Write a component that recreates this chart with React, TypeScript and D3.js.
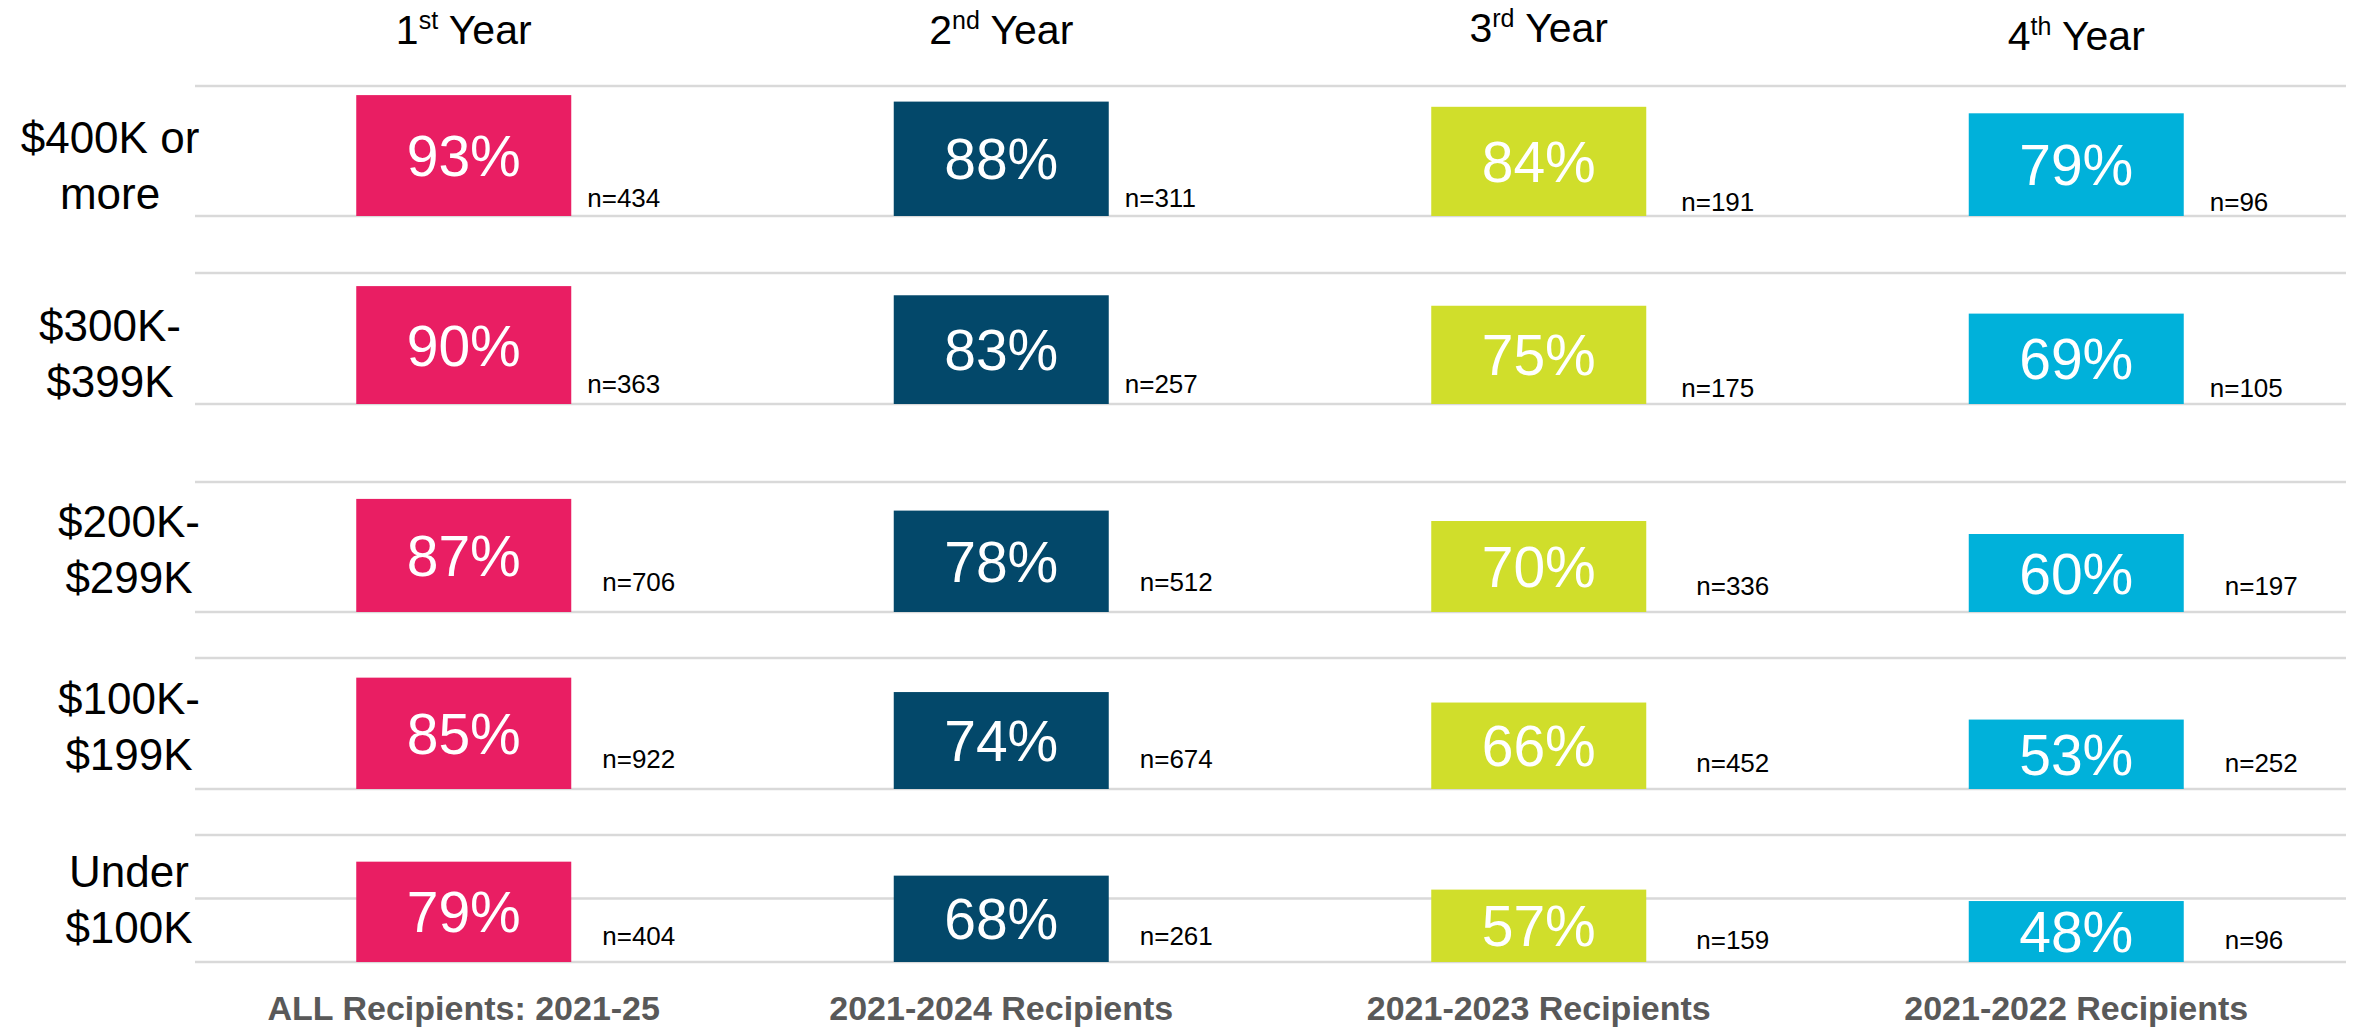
import React, { useEffect, useRef } from "react";
import * as d3 from "d3";

// data
const yearNums = ["1", "2", "3", "4"];
const yearSups = ["st", "nd", "rd", "th"];
const cohorts = [
  "ALL Recipients: 2021-25",
  "2021-2024 Recipients",
  "2021-2023 Recipients",
  "2021-2022 Recipients",
];
const incomeBands = [
  ["$400K or", "more"],
  ["$300K-", "$399K"],
  ["$200K-", "$299K"],
  ["$100K-", "$199K"],
  ["Under", "$100K"],
];
const year1 = [93, 90, 87, 85, 79];
const year2 = [88, 83, 78, 74, 68];
const year3 = [84, 75, 70, 66, 57];
const year4 = [79, 69, 60, 53, 48];
const n1 = [434, 363, 706, 922, 404];
const n2 = [311, 257, 512, 674, 261];
const n3 = [191, 175, 336, 452, 159];
const n4 = [96, 105, 197, 252, 96];
const rowTicks = [[0, 100], [0, 100], [0, 100], [0, 100], [0, 50, 100]];

const colors = ["#E91E63", "#03486A", "#D0DE2B", "#00B1DA"];

// layout
const W = 2354;
const H = 1027;
const rowTop = [86, 273, 482, 658, 835];
const rowBottom = [216, 404, 612, 789, 962];
const nGap = [16, 16, 35, 26];
const nDy = [-9, -11, -21, -21, -17];
const nColDy = [0, 0, 4, 4];
const titleY = [44, 44, 42, 50];
const font = "'Liberation Sans', Arial, sans-serif";

const App = () => {
  const ref = useRef<SVGSVGElement>(null);

  useEffect(() => {
    document.body.style.margin = "0";
    const svg = d3.select(ref.current);
    svg.selectAll("*").remove();

    const values = [year1, year2, year3, year4];
    const counts = [n1, n2, n3, n4];

    const x = d3.scaleBand<number>()
      .domain(d3.range(4))
      .range([195, 2345])
      .paddingInner(0.6)
      .paddingOuter(0.3);
    const cx = (i: number) => (x(i) as number) + x.bandwidth() / 2;

    // column titles
    yearNums.forEach((num, i) => {
      const t = svg.append("text")
        .attr("x", cx(i))
        .attr("y", titleY[i])
        .attr("text-anchor", "middle")
        .attr("font-family", font)
        .attr("font-size", 41)
        .attr("fill", "#000");
      t.append("tspan").text(num);
      t.append("tspan").attr("font-size", 25).attr("dy", -15).text(yearSups[i]);
      t.append("tspan").attr("dy", 15).text(" Year");
    });

    incomeBands.forEach((label, r) => {
      const y = d3.scaleLinear().domain([0, 100]).range([rowBottom[r], rowTop[r]]);
      const g = svg.append("g");
      const shifted = r >= 2;

      g.selectAll("line.grid")
        .data(rowTicks[r])
        .enter().append("line")
        .attr("class", "grid")
        .attr("x1", 195)
        .attr("x2", 2346)
        .attr("y1", (d) => y(d))
        .attr("y2", (d) => y(d))
        .attr("stroke", "#D9D9D9")
        .attr("stroke-width", 2.5);

      // row label
      const lx = shifted ? 129 : 110;
      const ly = rowBottom[r] - (shifted ? 19 : 7);
      g.selectAll("text.row")
        .data(label)
        .enter().append("text")
        .attr("class", "row")
        .attr("x", lx)
        .attr("y", (_d, k) => ly - (label.length - 1 - k) * 56)
        .attr("text-anchor", "middle")
        .attr("font-family", font)
        .attr("font-size", 44)
        .attr("fill", "#000")
        .text((d) => d);

      const cols = d3.range(4);
      g.selectAll("rect.bar")
        .data(cols)
        .enter().append("rect")
        .attr("class", "bar")
        .attr("x", (c) => x(c) as number)
        .attr("width", x.bandwidth())
        .attr("y", (c) => y(values[c][r]))
        .attr("height", (c) => y(0) - y(values[c][r]))
        .attr("fill", (c) => colors[c]);

      g.selectAll("text.pct")
        .data(cols)
        .enter().append("text")
        .attr("class", "pct")
        .attr("x", (c) => cx(c))
        .attr("y", (c) => (y(values[c][r]) + y(0)) / 2)
        .attr("dy", "0.36em")
        .attr("text-anchor", "middle")
        .attr("font-family", font)
        .attr("font-size", 57)
        .attr("fill", "#fff")
        .text((c) => `${values[c][r]}%`);

      g.selectAll("text.n")
        .data(cols)
        .enter().append("text")
        .attr("class", "n")
        .attr("x", (c) => (x(c) as number) + x.bandwidth() + nGap[c] + (shifted ? 15 : 0))
        .attr("y", (c) => y(0) + nDy[r] + nColDy[c])
        .attr("font-family", font)
        .attr("font-size", 26)
        .attr("fill", "#000")
        .text((c) => `n=${counts[c][r]}`);
    });

    // cohort labels
    svg.selectAll("text.cohort")
      .data(cohorts)
      .enter().append("text")
      .attr("class", "cohort")
      .attr("x", (_d, i) => cx(i))
      .attr("y", 1020)
      .attr("text-anchor", "middle")
      .attr("font-family", font)
      .attr("font-size", 34)
      .attr("font-weight", "bold")
      .attr("fill", "#595959")
      .text((d) => d);
  }, []);

  return <svg ref={ref} width={W} height={H} style={{ display: "block", background: "#fff" }} />;
};

export default App;
